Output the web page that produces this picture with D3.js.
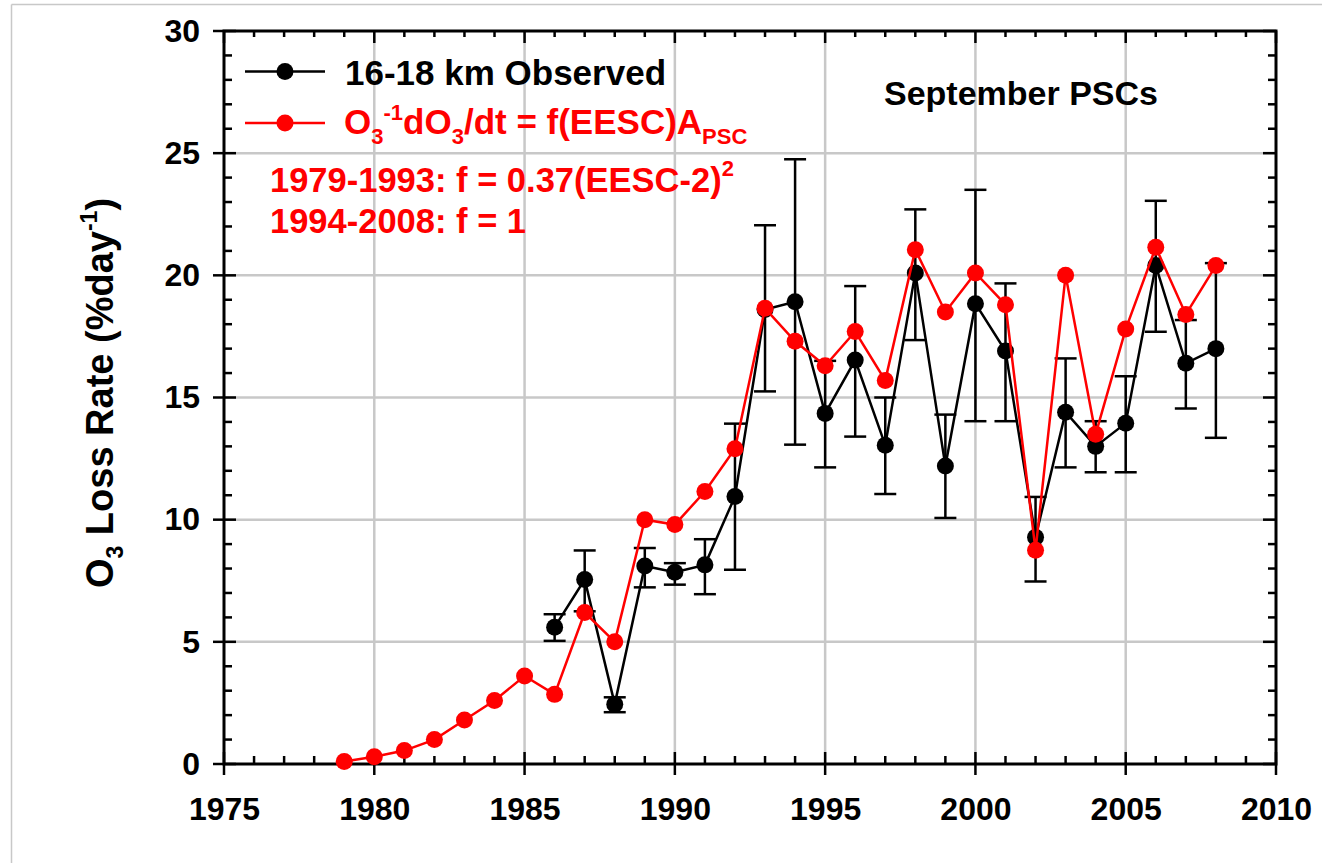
<!DOCTYPE html>
<html><head><meta charset="utf-8">
<script src="https://cdn.jsdelivr.net/npm/d3@7"></script>
<style>
body{margin:0;background:#fff}
svg{display:block}
text{font-family:"Liberation Sans",Arial,Helvetica,sans-serif;font-weight:bold}
</style>
</head><body>
<svg id="c" width="1322" height="863"></svg>
<script>
// ---- data ----
const modelYears = [1979,1980,1981,1982,1983,1984,1985,1986,1987,1988,1989,1990,1991,1992,1993,1994,1995,1996,1997,1998,1999,2000,2001,2002,2003,2004,2005,2006,2007,2008];
const modelValues = [0.1,0.3,0.55,1.0,1.8,2.6,3.6,2.85,6.2,5.0,10.0,9.8,11.15,12.9,18.65,17.3,16.3,17.7,15.7,21.05,18.5,20.1,18.8,8.75,20.0,13.5,17.8,21.15,18.4,20.4];
const obsYears = [1986,1987,1988,1989,1990,1991,1992,1993,1994,1995,1996,1997,1998,1999,2000,2001,2002,2003,2004,2005,2006,2007,2008];
const obsValues = [5.6,7.55,2.45,8.1,7.85,8.15,10.95,18.6,18.92,14.35,16.53,13.05,20.1,12.2,18.84,16.9,9.28,14.4,13.0,13.95,20.4,16.4,17.0];
const obsHigh = [6.13,8.74,2.73,8.84,8.22,9.2,13.93,22.05,24.75,16.5,19.56,15.0,22.7,14.3,23.5,19.67,10.93,16.6,14.03,15.87,23.05,18.17,20.5];
const obsLow = [5.04,6.25,2.12,7.23,7.34,6.95,7.95,15.25,13.07,12.14,13.4,11.05,17.35,10.07,14.03,14.03,7.47,12.14,11.94,11.94,17.69,14.55,13.35];
const xTickLabels = [1975,1980,1985,1990,1995,2000,2005,2010];
const yTickLabels = [0,5,10,15,20,25,30];
const xMinor = [1975,1976,1977,1978,1979,1980,1981,1982,1983,1984,1985,1986,1987,1988,1989,1990,1991,1992,1993,1994,1995,1996,1997,1998,1999,2000,2001,2002,2003,2004,2005,2006,2007,2008,2009,2010];
const yMinor = [0,1,2,3,4,5,6,7,8,9,10,11,12,13,14,15,16,17,18,19,20,21,22,23,24,25,26,27,28,29,30];

const svg = d3.select('#c');
const L = 224, R = 1276, T = 31, B = 764;
const x = d3.scaleLinear().domain([1975, 2010]).range([L, R]);
const y = d3.scaleLinear().domain([0, 30]).range([B, T]);

// outer frame (left & top edges visible)
svg.append('line').attr('x1',11.5).attr('x2',11.5).attr('y1',4.5).attr('y2',863).attr('stroke','#c8c8c8').attr('stroke-width',1.5);
svg.append('line').attr('x1',11.5).attr('x2',1322).attr('y1',4.5).attr('y2',4.5).attr('stroke','#c8c8c8').attr('stroke-width',1.5);

// grid
const grid = svg.append('g').attr('stroke','#c8c8c8').attr('stroke-width',2.5);
xTickLabels.slice(1,-1).forEach(v => grid.append('line').attr('x1',x(v)).attr('x2',x(v)).attr('y1',T).attr('y2',B));
yTickLabels.slice(1,-1).forEach(v => grid.append('line').attr('x1',L).attr('x2',R).attr('y1',y(v)).attr('y2',y(v)));

// ticks
const tk = svg.append('g').attr('stroke','#000').attr('stroke-width',2.5);
xMinor.forEach(v => {
  const major = xTickLabels.includes(v);
  const len = major ? 12 : 8;
  tk.append('line').attr('x1',x(v)).attr('x2',x(v)).attr('y1',B + (major?11:0)).attr('y2',B-len);
  tk.append('line').attr('x1',x(v)).attr('x2',x(v)).attr('y1',T).attr('y2',T+(major?12:6));
});
yMinor.forEach(v => {
  const major = yTickLabels.includes(v);
  const len = major ? 12 : 8;
  tk.append('line').attr('y1',y(v)).attr('y2',y(v)).attr('x1',L - (major?11:0)).attr('x2',L+len);
  tk.append('line').attr('y1',y(v)).attr('y2',y(v)).attr('x1',R).attr('x2',R-(major?13:8));
});

// axes for labels
const xAxis = d3.axisBottom(x).tickValues(xTickLabels).tickFormat(d3.format('d')).tickSize(0).tickPadding(33);
const gx = svg.append('g').attr('transform',`translate(0,${B})`).call(xAxis);
gx.select('.domain').remove();
gx.selectAll('text').attr('font-size',32).attr('fill','#000').attr('font-family','"Liberation Sans",Arial,sans-serif').attr('font-weight','bold');
const yAxis = d3.axisLeft(y).tickValues(yTickLabels).tickSize(0).tickPadding(24);
const gy = svg.append('g').attr('transform',`translate(${L},0)`).call(yAxis);
gy.select('.domain').remove();
gy.selectAll('text').attr('font-size',32).attr('fill','#000').attr('font-family','"Liberation Sans",Arial,sans-serif').attr('font-weight','bold');

// frame
svg.append('rect').attr('x',L).attr('y',T).attr('width',R-L).attr('height',B-T).attr('fill','none').attr('stroke','#000').attr('stroke-width',3);

// observed error bars
const obs = obsYears.map((yr,i)=>({yr, v:obsValues[i], hi:obsHigh[i], lo:obsLow[i]}));
const eb = svg.append('g').attr('stroke','#000').attr('stroke-width',2.5);
obs.forEach(d => {
  eb.append('line').attr('x1',x(d.yr)).attr('x2',x(d.yr)).attr('y1',y(d.hi)).attr('y2',y(d.lo));
  eb.append('line').attr('x1',x(d.yr)-11).attr('x2',x(d.yr)+11).attr('y1',y(d.hi)).attr('y2',y(d.hi));
  eb.append('line').attr('x1',x(d.yr)-11).attr('x2',x(d.yr)+11).attr('y1',y(d.lo)).attr('y2',y(d.lo));
});
const line = d3.line().x(d=>x(d.yr)).y(d=>y(d.v));
svg.append('path').datum(obs).attr('d',line).attr('fill','none').attr('stroke','#000').attr('stroke-width',2.5);
svg.append('g').selectAll('circle').data(obs).join('circle').attr('cx',d=>x(d.yr)).attr('cy',d=>y(d.v)).attr('r',8.5).attr('fill','#000');

// model
const mod = modelYears.map((yr,i)=>({yr, v:modelValues[i]}));
svg.append('path').datum(mod).attr('d',line).attr('fill','none').attr('stroke','#ff0000').attr('stroke-width',2.5);
svg.append('g').selectAll('circle').data(mod).join('circle').attr('cx',d=>x(d.yr)).attr('cy',d=>y(d.v)).attr('r',8.5).attr('fill','#ff0000');

// legend
const lg = svg.append('g');
lg.append('line').attr('x1',245).attr('x2',325).attr('y1',71.5).attr('y2',71.5).attr('stroke','#000').attr('stroke-width',2.5);
lg.append('circle').attr('cx',285).attr('cy',71.5).attr('r',8.5).attr('fill','#000');
lg.append('text').attr('x',345).attr('y',84.5).attr('font-size',35).attr('fill','#000').text('16-18 km Observed');
lg.append('line').attr('x1',245).attr('x2',325).attr('y1',123).attr('y2',123).attr('stroke','#ff0000').attr('stroke-width',2.5);
lg.append('circle').attr('cx',285).attr('cy',123).attr('r',8.5).attr('fill','#ff0000');
const t2 = lg.append('text').attr('x',344).attr('y',134).attr('font-size',35).attr('fill','#ff0000');
t2.append('tspan').text('O');
t2.append('tspan').attr('font-size',22).attr('dy',10).text('3');
t2.append('tspan').attr('font-size',22).attr('dy',-24).text('-1');
t2.append('tspan').attr('dy',14).text('dO');
t2.append('tspan').attr('font-size',22).attr('dy',10).text('3');
t2.append('tspan').attr('dy',-10).text('/dt = f(EESC)A');
t2.append('tspan').attr('font-size',22).attr('dy',10).text('PSC');

const t3 = lg.append('text').attr('x',270).attr('y',192).attr('font-size',34.5).attr('fill','#ff0000');
t3.append('tspan').text('1979-1993: f = 0.37(EESC-2)');
t3.append('tspan').attr('font-size',22).attr('dy',-16).text('2');
lg.append('text').attr('x',270).attr('y',233).attr('font-size',34.5).attr('fill','#ff0000').text('1994-2008: f = 1');

svg.append('text').attr('x',884).attr('y',105).attr('font-size',34).attr('fill','#000').text('September PSCs');

// y title
const yt = svg.append('text').attr('transform','translate(113,393) rotate(-90)').attr('text-anchor','middle').attr('font-size',38).attr('fill','#000');
yt.append('tspan').text('O');
yt.append('tspan').attr('font-size',23).attr('dy',10).text('3');
yt.append('tspan').attr('dy',-10).text(' Loss Rate (%day');
yt.append('tspan').attr('font-size',23).attr('dy',-16).text('-1');
yt.append('tspan').attr('dy',16).text(')');
</script>
</body></html>
